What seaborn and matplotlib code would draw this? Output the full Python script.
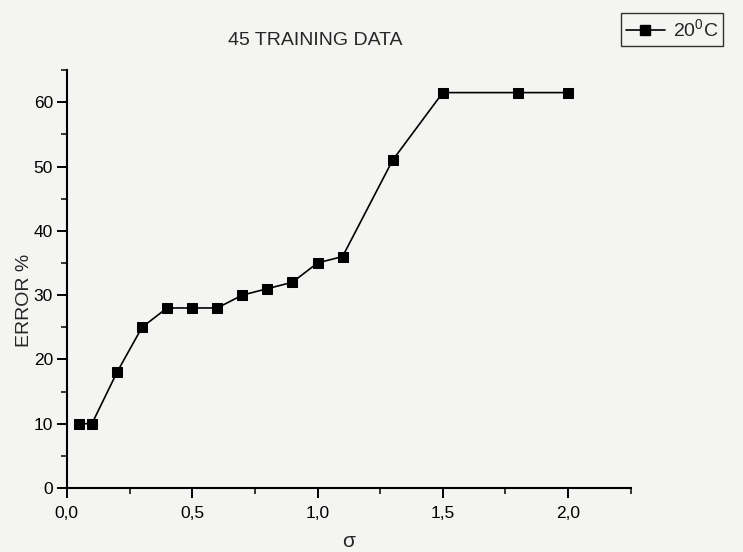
import matplotlib
matplotlib.use("Agg")
import matplotlib.pyplot as plt
import matplotlib.ticker as mticker
import seaborn as sns
import pandas as pd

sigma = [0.05, 0.1, 0.2, 0.3, 0.4, 0.5, 0.6, 0.7, 0.8, 0.9, 1.0, 1.1, 1.3, 1.5, 1.8, 2.0]
error = [10, 10, 18, 25, 28, 28, 28, 30, 31, 32, 35, 36, 51, 61.5, 61.5, 61.5]
series_label = "20$^{\\mathregular{0}}$C"
title = "45 TRAINING DATA"
x_ticks = [0.0, 0.5, 1.0, 1.5, 2.0]
x_tick_labels = ["0,0", "0,5", "1,0", "1,5", "2,0"]
y_ticks = [0, 10, 20, 30, 40, 50, 60]

df = pd.DataFrame({"sigma": sigma, "error": error, "series": series_label})

sns.set_style("ticks")
plt.rcParams["font.family"] = ["Liberation Sans", "DejaVu Sans"]
plt.rcParams["mathtext.fontset"] = "custom"
plt.rcParams["mathtext.rm"] = "Liberation Sans"

bg = "#f4f4f2"
fig = plt.figure(figsize=(7.43, 5.52), dpi=100, facecolor=bg)
ax = fig.add_axes([0.090, 0.116, 0.759, 0.757], facecolor=bg)

sns.lineplot(data=df, x="sigma", y="error", hue="series", palette=["black"],
             marker="s", markersize=6.5, markeredgecolor="black", linewidth=1.2,
             ax=ax, legend=False)

ax.set_xlim(0, 2.25)
ax.set_ylim(0, 65)
ax.set_xticks(x_ticks)
ax.set_xticklabels(x_tick_labels)
ax.set_yticks(y_ticks)
ax.xaxis.set_minor_locator(mticker.MultipleLocator(0.25))
ax.yaxis.set_minor_locator(mticker.MultipleLocator(5))
ax.tick_params(axis="both", which="major", direction="out", length=7, width=1.4,
               labelsize=12.5, colors="black")
ax.tick_params(axis="x", which="major", pad=6)
ax.tick_params(axis="y", which="major", pad=3)
ax.tick_params(axis="both", which="minor", direction="out", length=4, width=1.3)
for s in ["top", "right"]:
    ax.spines[s].set_visible(False)
for s in ["left", "bottom"]:
    ax.spines[s].set_linewidth(1.5)
    ax.spines[s].set_color("black")

ax.set_xlabel("σ", fontsize=15, labelpad=8)
ax.set_ylabel("ERROR %", fontsize=14)
ax.yaxis.set_label_coords(-0.060, 0.45)

fig.text(0.424, 0.927, title, ha="center", va="center", fontsize=14)

handle = plt.Line2D([], [], color="black", marker="s", markersize=6.5, linewidth=1.2)
leg = fig.legend([handle], [series_label], loc="upper left",
                 bbox_to_anchor=(0.836, 0.976), fontsize=14, frameon=True,
                 fancybox=False, handlelength=2.0, handletextpad=0.4,
                 borderpad=0.25, borderaxespad=0)
leg.get_frame().set_edgecolor("black")
leg.get_frame().set_linewidth(1.0)
leg.get_frame().set_facecolor(bg)

fig.savefig("out.png", dpi=100, facecolor=bg)
